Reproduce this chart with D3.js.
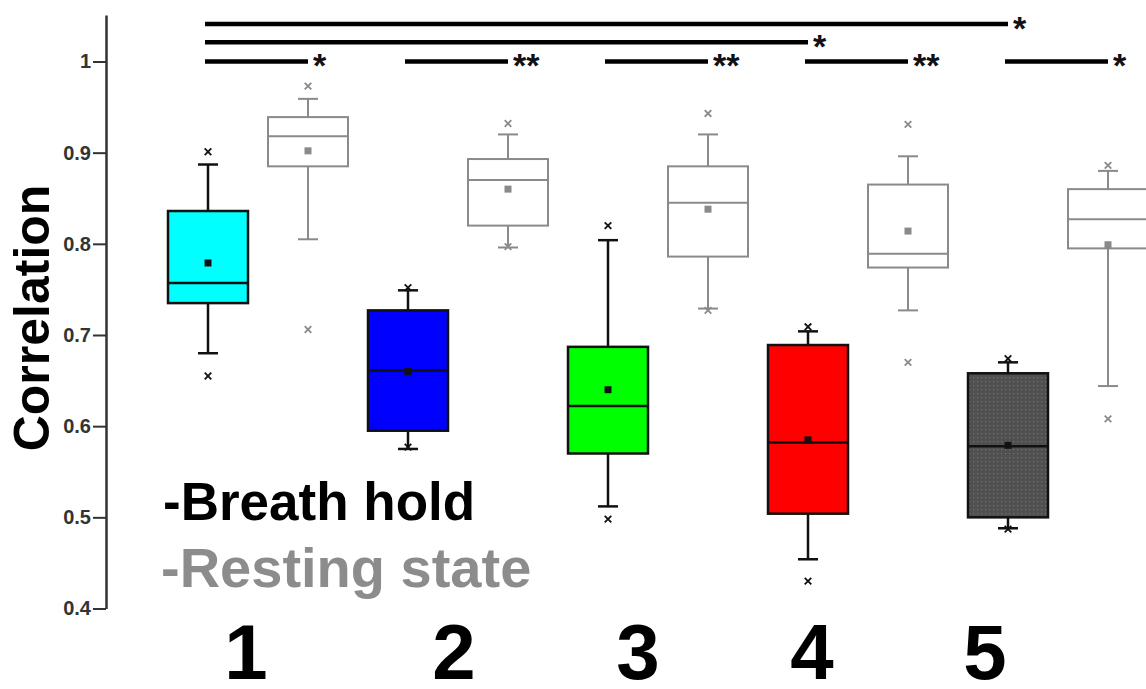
<!DOCTYPE html>
<meta charset="utf-8">
<script src="https://d3js.org/d3.v7.min.js"></script>
<style>
  body { margin: 0; background: #fff; }
  text { font-family: "Liberation Sans", Arial, sans-serif; font-weight: bold; }
</style>
<div id="chart"></div>
<script>

// groups along the x axis
var groups = ["1", "2", "3", "4", "5"];

// breath hold boxes
var bhLow    = [0.680, 0.575, 0.512, 0.454, 0.488];
var bhQ1     = [0.735, 0.595, 0.570, 0.504, 0.500];
var bhMedian = [0.757, 0.661, 0.622, 0.582, 0.578];
var bhQ3     = [0.836, 0.727, 0.687, 0.689, 0.658];
var bhHigh   = [0.887, 0.749, 0.804, 0.704, 0.670];
var bhMean   = [0.779, 0.660, 0.640, 0.585, 0.579];
var bhMin    = [0.655, 0.577, 0.498, 0.430, 0.487];
var bhMax    = [0.901, 0.752, 0.820, 0.709, 0.674];

// resting state boxes
var rsLow    = [0.805, 0.796, 0.729, 0.727, 0.644];
var rsQ1     = [0.885, 0.820, 0.786, 0.774, 0.795];
var rsMedian = [0.918, 0.870, 0.845, 0.789, 0.827];
var rsQ3     = [0.939, 0.893, 0.885, 0.865, 0.860];
var rsHigh   = [0.959, 0.920, 0.920, 0.896, 0.880];
var rsMean   = [0.902, 0.860, 0.838, 0.814, 0.799];
var rsMin    = [0.706, 0.797, 0.727, 0.670, 0.608];
var rsMax    = [0.973, 0.932, 0.943, 0.931, 0.886];

// significance bars: from breath hold of sigFrom to sigTo box
var sigFrom   = ["1", "2", "3", "4", "5", "1", "1"];
var sigTo     = ["1", "2", "3", "4", "5", "4", "5"];
var sigToSet  = ["rs", "rs", "rs", "rs", "rs", "bh", "bh"];
var sigLevel  = [1.0, 1.0, 1.0, 1.0, 1.0, 1.021, 1.041];
var sigLabel  = ["*", "**", "**", "**", "*", "*", "*"];

var yTicks = [0.4, 0.5, 0.6, 0.7, 0.8, 0.9, 1];
var bhColors = ["#00ffff", "#0000ff", "#00ff00", "#ff0000", "url(#dots)"];

var width = 1146, height = 689;

var svg = d3.select("#chart")
  .append("svg")
    .attr("width", width)
    .attr("height", height);

// dotted dark fill for the last box
var pat = svg.append("defs").append("pattern")
    .attr("id", "dots")
    .attr("patternUnits", "userSpaceOnUse")
    .attr("width", 4).attr("height", 4);
pat.append("rect").attr("width", 4).attr("height", 4).attr("fill", "#505050");
pat.append("rect").attr("x", 1).attr("y", 1).attr("width", 1.2).attr("height", 1.2).attr("fill", "#707070");

var y = d3.scaleLinear()
  .domain([0.4, 1.051])
  .range([608.5, 15]);

var x = d3.scaleBand()
  .domain(groups)
  .range([158, 1158]);

var labelX = d3.scaleOrdinal()
  .domain(groups)
  .range([246, 454, 638, 812, 985]);

function cx(g, set) { return x(g) + (set == "bh" ? 50 : 150); }

// Y axis
var axis = svg.append("g")
  .attr("transform", "translate(106,0)")
  .call(d3.axisLeft(y).tickValues(yTicks).tickSize(13).tickSizeOuter(0)
    .tickFormat(function(d) { return d == 1 ? "1" : d3.format(".1f")(d); }));
axis.select(".domain").attr("stroke", "#333").attr("stroke-width", 2.5);
axis.selectAll(".tick line").attr("stroke", "#333").attr("stroke-width", 2);
axis.selectAll(".tick text")
  .attr("fill", "#333")
  .attr("x", -15)
  .style("font-size", "20px")
  .style("font-family", "Liberation Sans, Arial, sans-serif")
  .style("font-weight", "bold");

svg.append("text")
  .attr("transform", "translate(49,318) rotate(-90)")
  .attr("text-anchor", "middle")
  .style("font-size", "50px")
  .attr("fill", "#000")
  .text("Correlation");

// draw one set of boxes
function drawBoxes(set, low, q1, med, q3, high, mean, mn, mx, fills, stroke, sw) {
  var data = groups.map(function(g, i) {
    return {g: g, low: low[i], q1: q1[i], med: med[i], q3: q3[i], high: high[i],
            mean: mean[i], mn: mn[i], mx: mx[i], fill: fills ? fills[i] : "#fff"};
  });
  var gs = svg.append("g").selectAll("g")
    .data(data)
    .enter()
    .append("g")
      .attr("transform", function(d) { return "translate(" + cx(d.g, set) + ",0)"; });

  gs.append("line")
    .attr("y1", function(d) { return y(d.low); })
    .attr("y2", function(d) { return y(d.high); })
    .attr("stroke", stroke).attr("stroke-width", sw);
  gs.append("line").attr("x1", -10).attr("x2", 10)
    .attr("y1", function(d) { return y(d.high); })
    .attr("y2", function(d) { return y(d.high); })
    .attr("stroke", stroke).attr("stroke-width", sw);
  gs.append("line").attr("x1", -10).attr("x2", 10)
    .attr("y1", function(d) { return y(d.low); })
    .attr("y2", function(d) { return y(d.low); })
    .attr("stroke", stroke).attr("stroke-width", sw);

  gs.append("rect")
    .attr("x", -40).attr("width", 80)
    .attr("y", function(d) { return y(d.q3); })
    .attr("height", function(d) { return y(d.q1) - y(d.q3); })
    .attr("fill", function(d) { return d.fill; })
    .attr("stroke", stroke).attr("stroke-width", sw);
  gs.append("line").attr("x1", -40).attr("x2", 40)
    .attr("y1", function(d) { return y(d.med); })
    .attr("y2", function(d) { return y(d.med); })
    .attr("stroke", stroke).attr("stroke-width", sw);

  gs.append("rect")
    .attr("x", -3.5).attr("width", 7).attr("height", 7)
    .attr("y", function(d) { return y(d.mean) - 3.5; })
    .attr("fill", stroke);

  var cross = d3.symbol().type(d3.symbolTimes).size(30);
  ["mn", "mx"].forEach(function(k) {
    gs.append("path")
      .attr("d", cross)
      .attr("transform", function(d) { return "translate(0," + y(d[k]) + ")"; })
      .attr("fill", "none")
      .attr("stroke", stroke).attr("stroke-width", 1.8);
  });
}

drawBoxes("rs", rsLow, rsQ1, rsMedian, rsQ3, rsHigh, rsMean, rsMin, rsMax, null, "#8a8a8a", 2);
drawBoxes("bh", bhLow, bhQ1, bhMedian, bhQ3, bhHigh, bhMean, bhMin, bhMax, bhColors, "#111", 2.5);

// significance bars
var sig = svg.append("g");
sigFrom.forEach(function(g, i) {
  var x1 = cx(g, "bh") - 3, x2 = cx(sigTo[i], sigToSet[i]), yy = y(sigLevel[i]);
  sig.append("line")
    .attr("x1", x1).attr("x2", x2)
    .attr("y1", yy).attr("y2", yy)
    .attr("stroke", "#000").attr("stroke-width", 4.5);
  sig.append("text")
    .attr("x", x2 + 5)
    .attr("y", yy + 16)
    .style("font-size", "34px")
    .attr("fill", "#111")
    .text(sigLabel[i]);
});

// legend
svg.append("text")
  .attr("x", 163).attr("y", 520)
  .style("font-size", "53px")
  .attr("fill", "#000")
  .text("-Breath hold");
svg.append("text")
  .attr("x", 161).attr("y", 587)
  .style("font-size", "56px")
  .attr("fill", "#8c8c8c")
  .text("-Resting state");

// group labels
svg.append("g").selectAll("text")
  .data(groups)
  .enter()
  .append("text")
    .attr("x", function(d) { return labelX(d); })
    .attr("y", 679)
    .attr("text-anchor", "middle")
    .style("font-size", "78px")
    .attr("fill", "#000")
    .text(function(d) { return d; });

</script>
